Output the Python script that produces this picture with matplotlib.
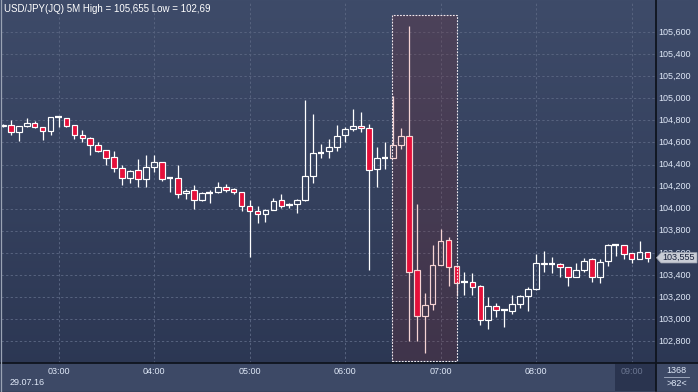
import matplotlib
matplotlib.use('Agg')
import matplotlib.pyplot as plt
import numpy as np
from matplotlib.patches import Rectangle, Polygon
from matplotlib.colors import LinearSegmentedColormap
import matplotlib.transforms as mtransforms

# ---------------- data ----------------
title = "USD/JPY(JQ) 5M High = 105,655 Low = 102,69"
date_label = "29.07.16"
hour_labels = ["03:00", "04:00", "05:00", "06:00", "07:00", "08:00", "09:00"]
hour_pos = [7, 19, 31, 43, 55, 67, 79]          # candle index of each hour label
opens = [104.75, 104.76, 104.69, 104.75, 104.78, 104.74, 104.70, 104.83, 104.82, 104.76,
         104.67, 104.64, 104.58, 104.53, 104.47, 104.37, 104.28, 104.35, 104.27, 104.38,
         104.42, 104.275, 104.28, 104.14, 104.17, 104.08, 104.145, 104.15, 104.20, 104.18,
         104.15, 104.02, 103.98, 103.95, 103.99, 104.08, 104.03, 104.04, 104.08, 104.30,
         104.505, 104.52, 104.56, 104.67, 104.72, 104.75, 104.73, 104.36, 104.46, 104.46,
         104.58, 104.66, 103.44, 103.03, 103.14, 103.49, 103.72, 103.48, 103.34, 103.34,
         103.30, 102.99, 103.12, 103.08, 103.07, 103.14, 103.21, 103.27, 103.51, 103.50,
         103.50, 103.47, 103.38, 103.44, 103.54, 103.38, 103.53, 103.67, 103.67, 103.60,
         103.54, 103.61]
highs = [104.77, 104.80, 104.75, 104.82, 104.79, 104.74, 104.83, 104.84, 104.82, 104.76,
         104.71, 104.65, 104.60, 104.53, 104.52, 104.40, 104.35, 104.45, 104.49, 104.49,
         104.42, 104.28, 104.40, 104.18, 104.21, 104.15, 104.17, 104.24, 104.22, 104.19,
         104.15, 104.08, 104.02, 104.00, 104.10, 104.13, 104.05, 104.09, 104.98, 104.86,
         104.59, 104.63, 104.76, 104.74, 104.90, 104.88, 104.77, 104.56, 104.60, 105.02,
         104.73, 105.655, 104.04, 103.24, 103.67, 103.82, 103.74, 103.49, 103.43, 103.42,
         103.31, 103.20, 103.15, 103.08, 103.22, 103.22, 103.29, 103.59, 103.62, 103.56,
         103.51, 103.47, 103.51, 103.55, 103.55, 103.54, 103.68, 103.68, 103.67, 103.60,
         103.71, 103.61]
lows = [104.74, 104.67, 104.61, 104.74, 104.73, 104.62, 104.67, 104.74, 104.74, 104.63,
        104.60, 104.49, 104.51, 104.40, 104.33, 104.21, 104.23, 104.20, 104.20, 104.33,
        104.25, 104.15, 104.10, 104.09, 104.00, 104.07, 104.05, 104.14, 104.15, 104.13,
        103.98, 103.56, 103.87, 103.88, 103.99, 104.01, 104.01, 103.96, 104.07, 104.23,
        104.46, 104.46, 104.52, 104.60, 104.70, 104.69, 103.44, 104.20, 104.36, 104.46,
        104.54, 102.80, 102.80, 102.69, 103.08, 103.49, 103.30, 103.21, 103.22, 103.22,
        102.95, 102.91, 103.02, 102.93, 103.05, 103.10, 103.07, 103.26, 103.43, 103.42,
        103.38, 103.30, 103.38, 103.43, 103.34, 103.33, 103.48, 103.57, 103.54, 103.51,
        103.54, 103.52]
closes = [104.76, 104.69, 104.75, 104.78, 104.74, 104.70, 104.83, 104.83, 104.75, 104.67,
          104.64, 104.58, 104.52, 104.46, 104.37, 104.28, 104.34, 104.27, 104.38, 104.42,
          104.27, 104.275, 104.13, 104.16, 104.08, 104.14, 104.145, 104.20, 104.17, 104.15,
          104.02, 103.98, 103.95, 103.99, 104.07, 104.02, 104.03, 104.08, 104.30, 104.50,
          104.505, 104.56, 104.66, 104.72, 104.75, 104.73, 104.35, 104.46, 104.46, 104.58,
          104.66, 103.43, 103.03, 103.13, 103.49, 103.71, 103.47, 103.33, 103.34, 103.29,
          102.99, 103.12, 103.08, 103.08, 103.14, 103.21, 103.27, 103.51, 103.50, 103.50,
          103.47, 103.38, 103.44, 103.53, 103.38, 103.52, 103.67, 103.67, 103.59, 103.54,
          103.61, 103.555]
price_ticks = [102.8, 103.0, 103.2, 103.4, 103.6, 103.8, 104.0, 104.2, 104.4, 104.6,
               104.8, 105.0, 105.2, 105.4, 105.6]
last_price = 103.555
last_price_label = "103,555"
highlight_first, highlight_last = 49, 57
highlight_top, highlight_bottom = 105.755, 102.62
corner_top, corner_bottom = "1368", ">82<"

# ---------------- style ----------------
W, H = 698, 392
BG_TOP, BG_BOT = '#3e4b69', '#2b3652'
RED = '#e5103a'
WHITE = '#ffffff'
PINK = '#f6d4d4'
GRID = '#56627e'
TXT = '#dfe8f7'
DARK = '#0f141e'
FONT = 'Liberation Sans'

def fx(px):
    return px / W

def fy(py):
    return 1 - py / H

fig = plt.figure(figsize=(W / 100, H / 100), dpi=100)

# background gradient
bg = fig.add_axes([0, 0, 1, 1], zorder=-10)
cmap = LinearSegmentedColormap.from_list('bg', [BG_BOT, BG_TOP])
grad = np.linspace(1, 0, 256).reshape(-1, 1)
bg.imshow(grad, aspect='auto', extent=[0, 1, 0, 1], cmap=cmap, vmin=0, vmax=1)
bg.set_xlim(0, 1)
bg.set_ylim(0, 1)
bg.axis('off')

# main plot axes
pl, pr, pt, pb = 1, 655.5, 1, 363
ax = fig.add_axes([fx(pl), fy(pb), fx(pr) - fx(pl), fy(pt) - fy(pb)])
ax.patch.set_alpha(0)
n = len(opens)
ax.set_xlim(-0.224, 82.0)
ax.set_ylim(102.602, 105.881)
for s in ax.spines.values():
    s.set_visible(False)
ax.set_xticks([])
ax.set_yticks([])

# grid
for p in price_ticks:
    ax.axhline(p, color=GRID, lw=0.75, ls=(0, (2.2, 2.2)), zorder=1)
for hp in hour_pos:
    ax.axvline(hp, color=GRID, lw=0.75, ls=(0, (2.2, 2.2)), zorder=1)

# highlight zone
ax.add_patch(Rectangle((highlight_first - 0.07, highlight_bottom),
                       highlight_last - highlight_first + 0.1,
                       highlight_top - highlight_bottom,
                       facecolor=(120 / 255, 44 / 255, 50 / 255, 0.26),
                       edgecolor='none', zorder=2))
ax.add_patch(Rectangle((highlight_first - 0.07, highlight_bottom),
                       highlight_last - highlight_first + 0.1,
                       highlight_top - highlight_bottom,
                       facecolor='none', edgecolor='#f0eaf0', lw=0.8,
                       ls=(0, (1.6, 1.2)), zorder=6))

# candles
bw = 0.72
for k in range(n):
    o, h, l, c = opens[k], highs[k], lows[k], closes[k]
    ec = PINK if highlight_first <= k <= highlight_last else WHITE
    top, bot = max(o, c), min(o, c)
    if h > top:
        ax.vlines(k, top, h, color=ec, lw=0.9, zorder=4)
    if l < bot:
        ax.vlines(k, l, bot, color=ec, lw=0.9, zorder=4)
    if abs(c - o) < 0.006:
        ax.hlines(o, k - bw / 2 - 0.05, k + bw / 2 + 0.05, color=ec, lw=1.6, zorder=5)
    else:
        fc = RED if c < o else 'none'
        ax.add_patch(Rectangle((k - bw / 2, bot), bw, top - bot, facecolor=fc,
                               edgecolor=ec, lw=0.85, zorder=5))

# title
fig.text(fx(4), fy(8.5), title, color=WHITE, fontsize=7, family=FONT, va='center', ha='left')

# bottom panel
fig.patches.append(Rectangle((0, fy(391)), 1, fy(363) - fy(391), transform=fig.transFigure,
                             facecolor='#3d4966', edgecolor='none', zorder=0))
fig.patches.append(Rectangle((fx(614.5), fy(391)), fx(655.5) - fx(614.5), fy(363.5) - fy(391),
                             transform=fig.transFigure, facecolor='#2a344f',
                             edgecolor='none', zorder=0))

# separators / borders
fig.lines.append(plt.Line2D([0, 1], [fy(363.2), fy(363.2)], transform=fig.transFigure,
                            color=DARK, lw=1.3, zorder=20))
fig.lines.append(plt.Line2D([fx(655.7), fx(655.7)], [0, 1], transform=fig.transFigure,
                            color=DARK, lw=1.3, zorder=20))
fig.lines.append(plt.Line2D([fx(0.5), fx(0.5)], [0, 1], transform=fig.transFigure,
                            color='#9aa3b4', lw=0.9, zorder=20))
fig.lines.append(plt.Line2D([0, 1], [fy(391.5), fy(391.5)], transform=fig.transFigure,
                            color='#9aa3b4', lw=0.9, zorder=20))

# y tick labels
ytrans = mtransforms.blended_transform_factory(fig.transFigure, ax.transData)
for p in price_ticks:
    lab = f"{p:.3f}".replace('.', ',')
    fig.text(fx(658.5), p, lab, transform=ytrans, color=TXT, fontsize=6.5, family=FONT,
             va='center', ha='left', zorder=5)

# last price tag
tag_y = last_price
ptop = ax.transData.transform((0, tag_y))[1]
ppx = H - ptop
tag = Polygon([(fx(656.5), fy(ppx)), (fx(661), fy(ppx - 5.2)), (fx(697), fy(ppx - 5.2)),
               (fx(697), fy(ppx + 5.2)), (fx(661), fy(ppx + 5.2))],
              closed=True, transform=fig.transFigure, facecolor='#c8ccd5',
              edgecolor='#9aa0ad', lw=0.5, zorder=30)
fig.patches.append(tag)
fig.text(fx(662), fy(ppx), last_price_label, color='#17203a', fontsize=6.5, family=FONT,
         va='center', ha='left', zorder=31)

# time labels
xtrans = mtransforms.blended_transform_factory(ax.transData, fig.transFigure)
for hp, lab in zip(hour_pos, hour_labels):
    col = '#6b7691' if lab == hour_labels[-1] else TXT
    fig.text(hp, fy(371.5), lab, transform=xtrans, color=col, fontsize=6.5, family=FONT,
             ha='center', va='center', zorder=5)
fig.text(fx(10), fy(382.5), date_label, color=TXT, fontsize=6.5, family=FONT,
         ha='left', va='center', zorder=5)

# corner
fig.text(fx(676.5), fy(370.5), corner_top, color=TXT, fontsize=6.5, family=FONT,
         ha='center', va='center', zorder=5)
fig.lines.append(plt.Line2D([fx(664), fx(689)], [fy(377), fy(377)], transform=fig.transFigure,
                            color='#aab4c8', lw=0.6, zorder=20))
fig.text(fx(676.5), fy(383.5), corner_bottom, color=TXT, fontsize=6.5, family=FONT,
         ha='center', va='center', zorder=5)

fig.savefig('out.png', dpi=100)
